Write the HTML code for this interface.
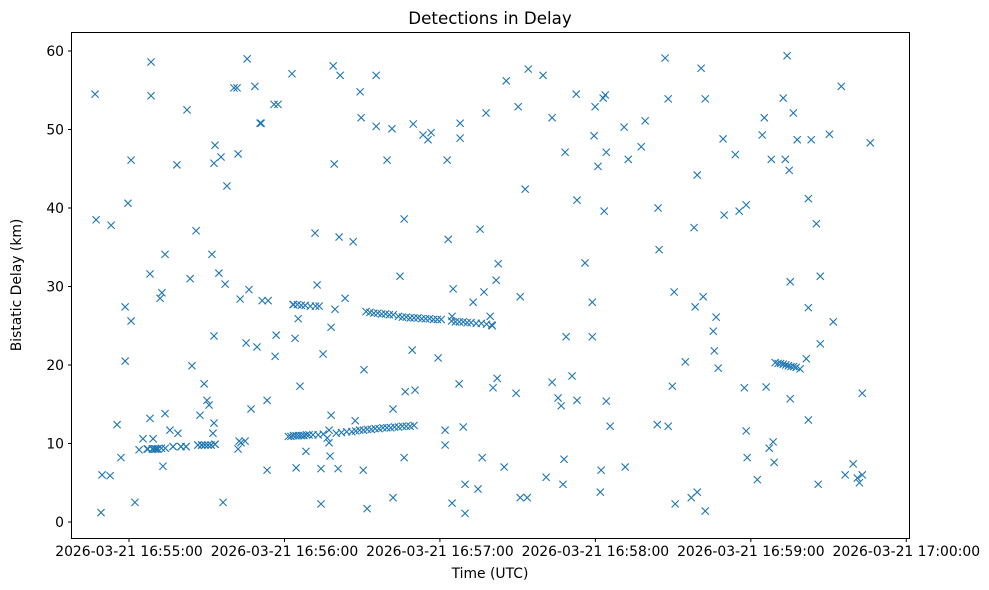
<!DOCTYPE html>
<html><head><meta charset="utf-8"><style>
body{margin:0;background:#fff;}
svg{display:block;font-family:"DejaVu Sans","Liberation Sans",sans-serif;}
</style></head><body>
<svg id="chart" width="989" height="590" viewBox="0 0 989 590" xmlns="http://www.w3.org/2000/svg">
<rect x="0" y="0" width="989" height="590" fill="#fff"/>
<text x="490" y="24" font-size="16.7" text-anchor="middle" fill="#000">Detections in Delay</text>
<text x="490" y="578" font-size="13.9" text-anchor="middle" fill="#000">Time (UTC)</text>
<text x="21" y="285" font-size="13.9" text-anchor="middle" fill="#000" transform="rotate(-90 21 285)">Bistatic Delay (km)</text>
<g id="marks"></g>
<g id="axes"></g>
<rect x="71.5" y="32.5" width="838" height="506" fill="none" stroke="#000" stroke-width="1"/>
</svg>
<script>
// time in seconds relative to 2026-03-21 16:55:00 UTC; delay in km
const times = [-13.1,-12.7,-10.8,-10.4,-7.3,-6.9,-4.6,-3.1,-1.5,-1.5,-0.4,0.8,0.8,2.3,3.9,5.4,7.3,8.1,8.5,8.5,8.1,9.3,9.3,10.4,11.2,12,12.7,13.1,13.9,13.9,15.8,17,18.5,18.9,20.1,22,22.4,23.6,24.3,25.9,26.6,27.4,28.2,29,29.3,30.1,30.5,30.9,31.7,32,32.4,32.8,32.8,33.2,32.8,33.2,34.7,35.5,36.3,37.1,37.8,40.5,41.7,42.1,42.1,42.5,42.9,43.2,44.8,45.2,45.6,46.3,47.1,48.6,49.4,50.6,51,51.4,53.3,53.3,53.7,56,57.5,56.4,56.8,
62.9,63.3,64.1,64.5,65.3,66,68.3,71.8,72.6,73.4,74.1,74.1,74.9,76.5,77.2,77.2,77.6,78,78,78.8,79.2,79.5,80.7,81.5,81.1,83.4,86.5,87.3,89.2,89.6,90.4,90.7,91.9,95.4,95.4,99.6,101.5,101.9,101.9,104.6,106.2,106.6,106.2,109.3,109.7,110.4,113.5,115.4,116.6,119.3,122,122,122.8,123.2,124.7,125.1,124.7,127.4,127.8,127.8,129,129.7,129.7,132.8,134.7,135.5,136.3,137,137.8,139.4,140.2,140.5,141.7,142.5,142.1,144.8,145.6,149.4,150.2,151,151,153.7,152.9,154.1,159.8,161,163.3,163.3,165.6,166.8,167.9,167.5,168.3,168.7,171,172.6,172.9,172.9,176,178.8,178.8,179.9,179.5,181,181.9,182.2,183,183.8,183.4,184.2,184.2,185.7,191.5,191.1,192.7,197.7,199.2,203.9,204.2,204.6,206.9,208.1,208.1,209.7,210.4,210.8,214.7,217,218.1,218.5,219.3,219.3,220.8,221.6,222.4,222.4,225.5,225.9,226.6,227.4,229.3,229.7,234,235.5,237.5,238.2,238.2,238.6,242.5,244.4,245.2,245.9,247.1,247.9,248.6,249,252.5,253.3,254,254.8,255.2,255.2,256.4,257.9,261.4,262.2,262.2,262.2,263.3,265.3,266,266.8,266.8,270.3,271.8,274.9,276.4,279.5,281.1,281.9,283,283,286.1,
7,9,10,11,12.5,14,17,20,22,26.6,28,29.3,30.5,31.7,33.2,
61.5,62.5,63.5,64.5,65.5,66.5,67.5,68.5,69.5,71,73,75,
80,82,84,86,87.5,89,90.5,92,93.5,95,96.5,98,99.5,101,102.5,104,105.5,107,108.5,110,
63.5,65,66.5,68,70,72,
91.5,93,94.5,96,97.5,99,100.5,102,104,105.5,107,108.5,110,111.5,113,114.5,116,117.5,119,120.5,
124.5,126,127.5,129,130.5,132,134,136,138,140,
249.4,250.5,251.5,252.5,253.5,254.5,255.5,256.5,257.5,259];
const delays = [54.5,38.5,1.2,6,5.9,37.8,12.4,8.2,27.4,20.5,40.6,46.1,25.6,2.5,9.2,10.6,9.3,31.6,58.6,54.3,13.2,10.6,9.3,9.3,9.3,28.5,29.2,7.1,34.1,13.8,11.7,9.6,45.5,11.3,9.6,9.6,52.5,31,19.9,37.1,9.8,13.6,9.8,17.6,9.8,15.5,9.8,14.9,9.8,34.1,11.3,45.7,12.6,48,23.7,9.9,31.7,46.5,2.5,30.3,42.8,55.3,55.3,46.9,9.3,10.3,28.4,10.1,10.3,22.8,59,29.6,14.4,55.5,22.3,50.8,50.8,28.2,6.6,15.5,28.2,53.2,53.2,21.1,23.8,
57.1,27.7,23.4,6.9,25.9,17.3,9.0,36.8,30.2,27.5,6.8,2.3,21.4,10.7,11.7,10.1,8.4,24.8,13.6,58.1,45.6,27.1,6.8,56.9,36.3,28.5,35.7,12.9,54.8,51.5,6.6,19.4,1.7,56.9,50.4,46.1,50.1,3.1,14.4,31.3,38.6,16.6,8.2,21.9,50.7,16.8,49.3,48.7,49.6,20.9,11.7,9.8,46.1,36,26.2,29.7,2.4,17.6,48.9,50.8,12.1,1.1,4.8,28,4.2,37.3,8.2,29.3,52.1,26.2,25,17.1,30.8,32.9,18.3,7,56.2,16.4,52.9,28.7,3.1,3.1,42.4,57.7,56.9,5.7,51.5,17.8,15.8,14.8,8,4.8,47.1,23.6,18.6,54.5,41,15.5,33,23.6,28,52.9,49.2,45.3,3.8,6.6,54,54.4,39.6,47.1,15.4,12.2,7,50.3,46.2,47.8,51.1,12.4,40,34.7,59.1,53.9,12.2,17.3,29.3,2.3,20.4,3.1,37.5,27.4,44.2,3.8,57.8,28.7,53.9,1.4,24.3,21.8,26.1,19.6,48.8,39.1,46.8,39.6,17.1,40.4,11.6,8.2,5.4,49.3,51.5,17.2,9.4,46.2,10.2,7.6,54,46.2,59.4,44.8,30.6,15.7,52.1,48.7,20.8,41.2,27.3,13,48.7,38,4.8,31.3,22.7,49.4,25.5,55.5,6,7.4,5.6,5,6,16.4,48.3,
9.3,9.3,9.3,9.3,9.4,9.4,9.6,9.6,9.6,9.8,9.8,9.8,9.8,9.8,9.9,
10.9,10.9,11.0,11.0,11.0,11.0,11.0,11.1,11.1,11.1,11.1,11.2,
11.3,11.4,11.5,11.5,11.6,11.7,11.7,11.8,11.8,11.9,11.9,12.0,12.0,12.0,12.1,12.1,12.2,12.2,12.2,12.3,
27.7,27.7,27.6,27.6,27.5,27.5,
26.8,26.7,26.6,26.6,26.5,26.5,26.4,26.4,26.2,26.1,26.1,26.0,26.0,26.0,25.9,25.9,25.9,25.8,25.8,25.8,
25.6,25.5,25.5,25.5,25.4,25.4,25.3,25.3,25.2,25.1,
20.3,20.2,20.2,20.1,20.0,19.9,19.8,19.8,19.7,19.5];
const xTicks = [0,60,120,180,240,300];
const xTickLabels = ["2026-03-21 16:55:00","2026-03-21 16:56:00","2026-03-21 16:57:00","2026-03-21 16:58:00","2026-03-21 16:59:00","2026-03-21 17:00:00"];
const yTicks = [0,10,20,30,40,50,60];

const NS="http://www.w3.org/2000/svg";
const xScale = t => 129 + t*2.591;
const yScale = v => 522 - v*7.85;
const marks=document.getElementById('marks');
const axes=document.getElementById('axes');
const n=Math.min(times.length,delays.length);
for(let i=0;i<n;i++){
  const x=xScale(times[i]), y=yScale(delays[i]), s=3.6;
  const p=document.createElementNS(NS,'path');
  p.setAttribute('d',`M${x-s},${y-s}L${x+s},${y+s}M${x-s},${y+s}L${x+s},${y-s}`);
  p.setAttribute('stroke','#1f77b4');p.setAttribute('stroke-width','1.1');p.setAttribute('fill','none');
  
  
  marks.appendChild(p);
}
xTicks.forEach((t,i)=>{
  const x=xScale(t);
  const l=document.createElementNS(NS,'line');
  l.setAttribute('x1',x);l.setAttribute('x2',x);l.setAttribute('y1',538.5);l.setAttribute('y2',542);l.setAttribute('stroke','#000');
  
  
  axes.appendChild(l);
  const tx=document.createElementNS(NS,'text');
  tx.setAttribute('x',x);tx.setAttribute('y',556);tx.setAttribute('font-size','13.9');tx.setAttribute('text-anchor','middle');
  tx.textContent=xTickLabels[i];
  
  
  axes.appendChild(tx);
});
yTicks.forEach(v=>{
  const y=yScale(v);
  const l=document.createElementNS(NS,'line');
  l.setAttribute('x1',68);l.setAttribute('x2',71.5);l.setAttribute('y1',y);l.setAttribute('y2',y);l.setAttribute('stroke','#000');
  
  
  axes.appendChild(l);
  const tx=document.createElementNS(NS,'text');
  tx.setAttribute('x',64);tx.setAttribute('y',y+4.8);tx.setAttribute('font-size','13.9');tx.setAttribute('text-anchor','end');
  tx.textContent=String(v);
  
  
  axes.appendChild(tx);
});
</script>
</body></html>
